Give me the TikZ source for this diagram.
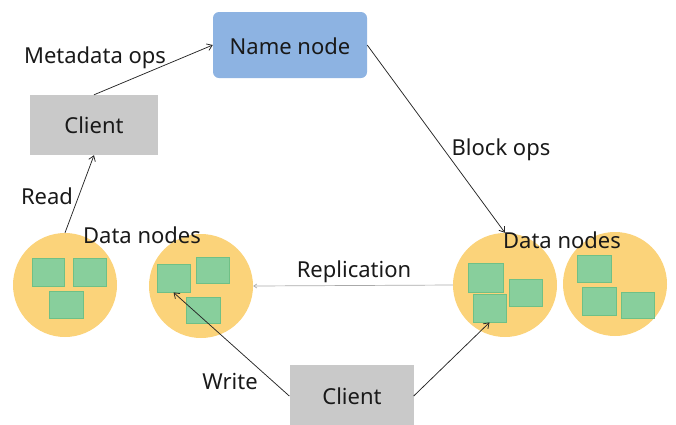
\documentclass[tikz,border=0pt]{standalone}
\usepackage{fontspec}
\setmainfont{Noto Sans}
\usetikzlibrary{arrows.meta}
\definecolor{nnblue}{HTML}{8DB3E2}
\definecolor{clgray}{HTML}{C9C9C9}
\definecolor{dnorange}{HTML}{FBD37A}
\definecolor{blkgreen}{HTML}{88CF9C}
\definecolor{blkedge}{HTML}{6FC086}
\definecolor{repgray}{HTML}{AAAAAA}
\tikzset{
  lbl/.style={font=\fontsize{22}{24}\selectfont, text=black!90, inner sep=0pt},
  namebox/.style={fill=nnblue, rounded corners=6pt, inner sep=0pt},
  clientbox/.style={fill=clgray, inner sep=0pt},
  dncircle/.style={circle, fill=dnorange, inner sep=0pt, minimum size=104pt},
  blk/.style={fill=blkgreen, draw=blkedge, line width=0.8pt, inner sep=0pt},
  conn/.style={draw=black!85, line width=0.75pt, -{Straight Barb[length=5pt,width=7pt]}},
  rep/.style={draw=repgray, line width=0.7pt, -{Straight Barb[length=3pt,width=4pt]}}
}
\begin{document}
\begin{tikzpicture}[x=1pt,y=-1pt]
\useasboundingbox (0,0) rectangle (676,424);
% boxes
\node[namebox, minimum width=154pt, minimum height=66pt] (nn) at (290,45) {};
\node[clientbox, minimum width=128pt, minimum height=60pt] (ct) at (94,125) {};
\node[clientbox, minimum width=124pt, minimum height=62pt] (cb) at (351.5,396) {};
% data node circles
\node[dncircle] (c1) at (65,285) {};
\node[dncircle] (c2) at (201,286) {};
\node[dncircle] (c3) at (505,285) {};
\node[dncircle] (c4) at (615,284) {};
% blocks
\node[blk, minimum width=32pt, minimum height=28pt] (c1a) at (48,272) {};
\node[blk, minimum width=33pt, minimum height=28pt] (c1b) at (89.5,272) {};
\node[blk, minimum width=34pt, minimum height=27pt] (c1c) at (66,304.5) {};
\node[blk, minimum width=33pt, minimum height=28pt] (c2a) at (173.5,278) {};
\node[blk, minimum width=33pt, minimum height=26pt] (c2b) at (212.5,270) {};
\node[blk, minimum width=34pt, minimum height=26pt] (c2c) at (203,310) {};
\node[blk, minimum width=35pt, minimum height=29pt] (c3a) at (485.5,277.5) {};
\node[blk, minimum width=33pt, minimum height=27pt] (c3b) at (525.5,292.5) {};
\node[blk, minimum width=33pt, minimum height=28pt] (c3c) at (489.5,308) {};
\node[blk, minimum width=34pt, minimum height=27pt] (c4a) at (594,268.5) {};
\node[blk, minimum width=34pt, minimum height=28pt] (c4b) at (599,301) {};
\node[blk, minimum width=33pt, minimum height=26pt] (c4c) at (637.5,305) {};
% texts
\node[lbl] (tnn) at (290,46) {Name node};
\node[lbl] (tct) at (94,125) {Client};
\node[lbl] (tcb) at (352,396) {Client};
\node[lbl] (tmeta) at (95,58) {Metadata ops};
\node[lbl] (tread) at (47,196) {Read};
\node[lbl] (tdn1) at (142,235) {Data nodes};
\node[lbl] (tdn2) at (562,240) {Data nodes};
\node[lbl] (trep) at (354,272) {Replication};
\node[lbl] (tblk) at (501,150) {Block ops};
\node[lbl] (twr) at (230,381) {Write};
% connectors
\draw[conn] (ct.north) -- (nn.west);
\draw[conn] (c1.north) -- (ct.south);
\draw[conn] (nn.east) -- (c3.north);
\draw[rep] (c3.west) -- (c2.east);
\draw[conn] (cb.west) -- (c2a.south);
\draw[conn] (cb.east) -- (c3c.south);
\end{tikzpicture}
\end{document}
